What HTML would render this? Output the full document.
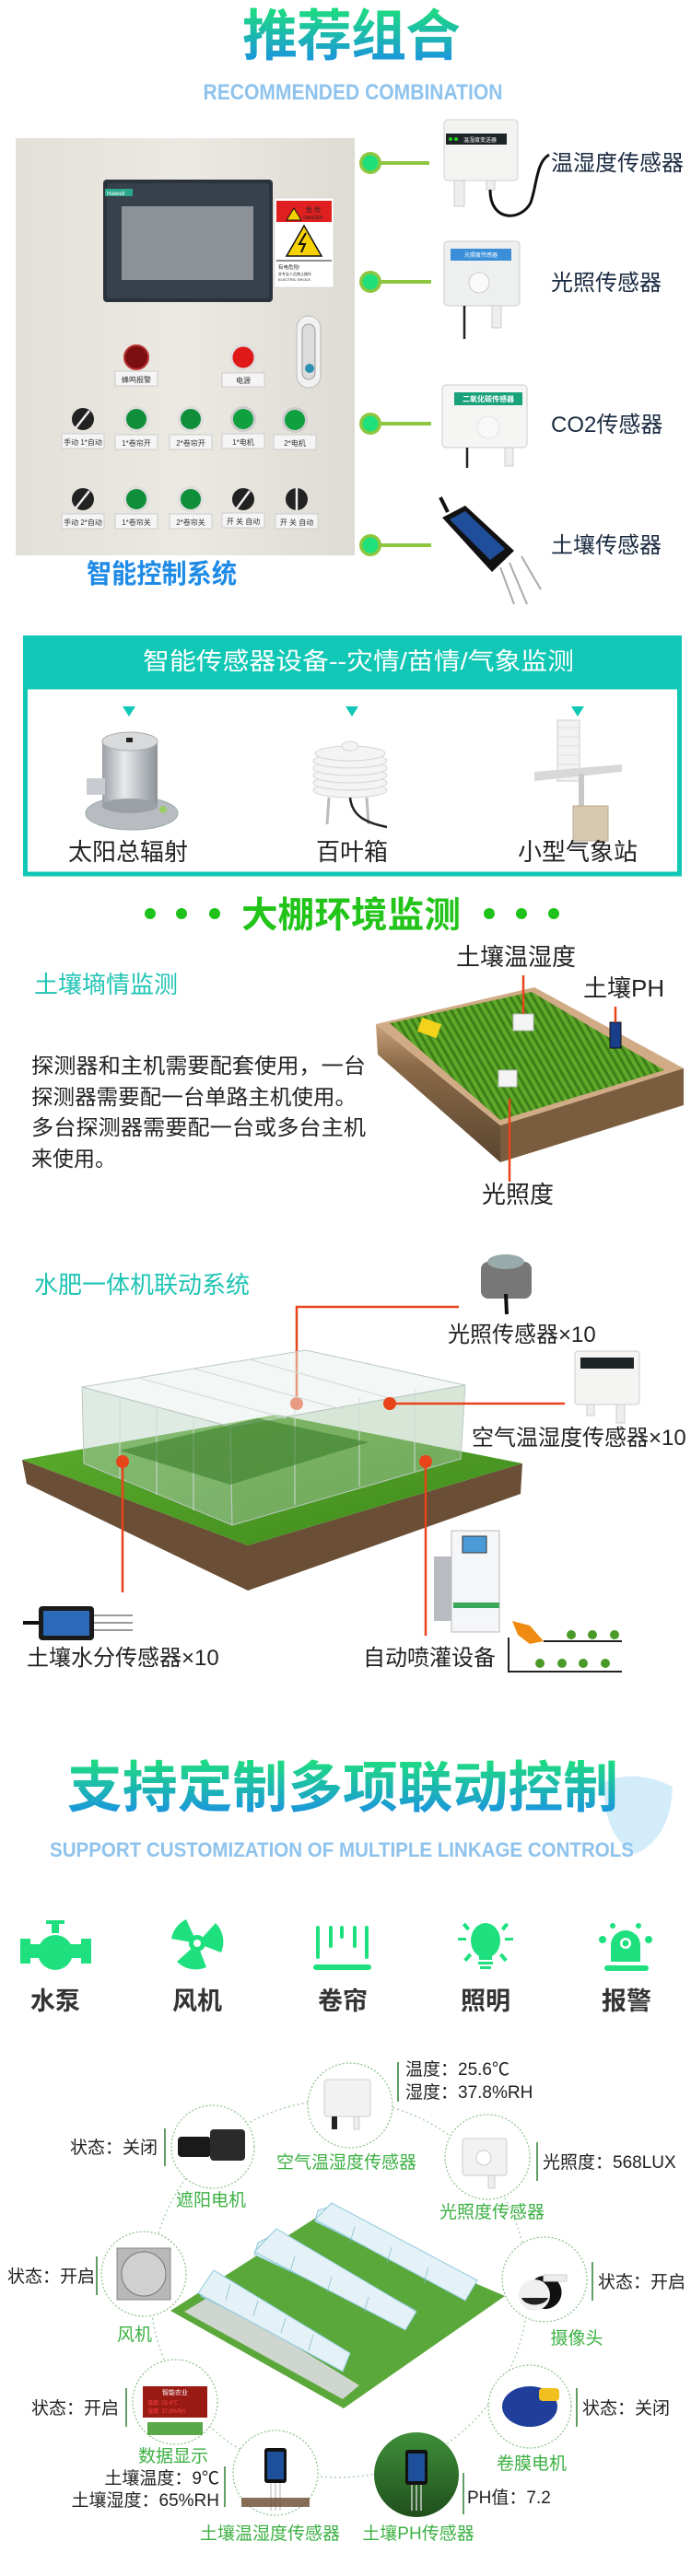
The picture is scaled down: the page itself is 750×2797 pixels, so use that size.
<!DOCTYPE html>
<html><head><meta charset="utf-8"><style>
html,body{margin:0;padding:0;background:#fff}
svg{display:block}
text{font-family:"Liberation Sans","Noto Sans CJK SC",sans-serif}
</style></head><body>
<svg width="750" height="2797" viewBox="0 0 750 2797" xmlns="http://www.w3.org/2000/svg">
<defs>
<linearGradient id="tg" x1="0" y1="0" x2="0" y2="1"><stop offset="0" stop-color="#1fe07a"/><stop offset="1" stop-color="#1a8de8"/></linearGradient>
<linearGradient id="panel" x1="0" y1="0" x2="1" y2="0"><stop offset="0" stop-color="#e2e0d8"/><stop offset="0.5" stop-color="#ebe9e2"/><stop offset="1" stop-color="#dddbd3"/></linearGradient>
<linearGradient id="silver" x1="0" y1="0" x2="1" y2="0"><stop offset="0" stop-color="#9aa0a6"/><stop offset="0.4" stop-color="#e8eaec"/><stop offset="1" stop-color="#8c9298"/></linearGradient>
<pattern id="rows" width="7" height="7" patternUnits="userSpaceOnUse" patternTransform="rotate(-30)"><rect width="7" height="7" fill="#5ea82a"/><rect width="3" height="7" fill="#3d7d18"/></pattern>
<linearGradient id="soil" x1="0" y1="0" x2="0" y2="1"><stop offset="0" stop-color="#c9a27a"/><stop offset="0.3" stop-color="#8a6a48"/><stop offset="1" stop-color="#5a4530"/></linearGradient>
<linearGradient id="grass" x1="0" y1="0" x2="1" y2="1"><stop offset="0" stop-color="#5cae2e"/><stop offset="1" stop-color="#3f8a1c"/></linearGradient>
<linearGradient id="phg" x1="0" y1="0" x2="0" y2="1"><stop offset="0" stop-color="#3f8f3a"/><stop offset="1" stop-color="#1f4f1c"/></linearGradient>
</defs>

<!-- ===== Section 1 ===== -->
<text x="381" y="60" text-anchor="middle" font-size="60" font-weight="bold" fill="url(#tg)" letter-spacing="-1">推荐组合</text>
<text x="383" y="108" text-anchor="middle" font-size="24" font-weight="bold" fill="#8ec3ee" textLength="325" lengthAdjust="spacingAndGlyphs">RECOMMENDED COMBINATION</text>

<rect x="17" y="150" width="368" height="453" fill="url(#panel)"/>
<rect x="112" y="195" width="184" height="133" rx="4" fill="#2a323b"/>
<rect x="116" y="199" width="176" height="125" rx="3" fill="#37414c"/>
<rect x="114" y="205" width="30" height="8" fill="#2aa88a"/>
<text x="116" y="212" font-size="6" fill="#fff">Haiwell</text>
<rect x="132" y="224" width="143" height="80" fill="#8d9298"/>
<rect x="298" y="215" width="64" height="97" fill="#fff" stroke="#ccc" stroke-width="0.5"/>
<rect x="300" y="218" width="60" height="23" fill="#e02020"/>
<polygon points="311,239 319,226 327,239" fill="#f7d100" stroke="#111" stroke-width="1"/>
<text x="340" y="230" font-size="7" fill="#222" text-anchor="middle">危 险</text>
<text x="340" y="238" font-size="5" fill="#222" text-anchor="middle">DANGER</text>
<polygon points="311,278 330,245 349,278" fill="#f7d100" stroke="#111" stroke-width="1.5"/>
<path d="M332,253 L325,265 L331,265 L327,274" stroke="#111" stroke-width="2" fill="none"/>
<line x1="300" y1="283" x2="360" y2="283" stroke="#222"/>
<text x="302" y="292" font-size="5.5" fill="#222">有电危险!</text>
<text x="302" y="299" font-size="4" fill="#222">非专业人员禁止操作</text>
<text x="302" y="305" font-size="4" fill="#222">ELECTRIC SHOCK</text>
<rect x="322" y="343" width="26" height="78" rx="13" fill="#f2f2f2" stroke="#bbb"/>
<rect x="328" y="352" width="14" height="60" rx="7" fill="#dcdcdc" stroke="#999"/>
<circle cx="336" cy="400" r="5" fill="#2a8fb0"/>

<!-- row1 -->
<circle cx="148" cy="388" r="13" fill="#7a0e10" stroke="#b33" stroke-width="2"/>
<circle cx="264" cy="388" r="13" fill="#e01818" stroke="#ddd" stroke-width="3"/>
<rect x="125" y="403" width="46" height="16" fill="#f5f5f5" stroke="#ccc"/><text x="148" y="415" font-size="8" text-anchor="middle" fill="#333">蜂鸣报警</text>
<rect x="241" y="405" width="46" height="15" fill="#f5f5f5" stroke="#ccc"/><text x="264" y="416" font-size="8" text-anchor="middle" fill="#333">电源</text>
<!-- row2 -->
<circle cx="90" cy="455" r="12" fill="#222"/><line x1="82" y1="465" x2="97" y2="446" stroke="#eee" stroke-width="2.5"/>
<circle cx="148" cy="455" r="14" fill="#ddd"/><circle cx="148" cy="455" r="11" fill="#0f8f3a"/>
<circle cx="207" cy="455" r="14" fill="#ddd"/><circle cx="207" cy="455" r="11" fill="#0f8f3a"/>
<circle cx="264" cy="455" r="14" fill="#ccc"/><circle cx="264" cy="455" r="11" fill="#10a040"/>
<circle cx="320" cy="456" r="14" fill="#ccc"/><circle cx="320" cy="456" r="11" fill="#10a040"/>
<g font-size="8" text-anchor="middle" fill="#333">
<rect x="67" y="471" width="46" height="16" fill="#f5f5f5" stroke="#ccc"/><text x="90" y="483">手动 1*自动</text>
<rect x="125" y="472" width="46" height="16" fill="#f5f5f5" stroke="#ccc"/><text x="148" y="484">1*卷帘开</text>
<rect x="184" y="472" width="46" height="16" fill="#f5f5f5" stroke="#ccc"/><text x="207" y="484">2*卷帘开</text>
<rect x="241" y="471" width="46" height="16" fill="#f5f5f5" stroke="#ccc"/><text x="264" y="483">1*电机</text>
<rect x="297" y="472" width="46" height="16" fill="#f5f5f5" stroke="#ccc"/><text x="320" y="484">2*电机</text>
</g>
<!-- row3 -->
<circle cx="90" cy="542" r="12" fill="#222"/><line x1="82" y1="552" x2="97" y2="533" stroke="#eee" stroke-width="2.5"/>
<circle cx="148" cy="542" r="14" fill="#ddd"/><circle cx="148" cy="542" r="11" fill="#0f8f3a"/>
<circle cx="207" cy="542" r="14" fill="#ddd"/><circle cx="207" cy="542" r="11" fill="#0f8f3a"/>
<circle cx="264" cy="542" r="12" fill="#222"/><line x1="257" y1="552" x2="271" y2="533" stroke="#eee" stroke-width="2.5"/>
<circle cx="322" cy="542" r="12" fill="#222"/><line x1="322" y1="530" x2="322" y2="554" stroke="#eee" stroke-width="2.5"/>
<g font-size="8" text-anchor="middle" fill="#333">
<rect x="67" y="558" width="46" height="16" fill="#f5f5f5" stroke="#ccc"/><text x="90" y="570">手动 2*自动</text>
<rect x="125" y="558" width="46" height="16" fill="#f5f5f5" stroke="#ccc"/><text x="148" y="570">1*卷帘关</text>
<rect x="184" y="558" width="46" height="16" fill="#f5f5f5" stroke="#ccc"/><text x="207" y="570">2*卷帘关</text>
<rect x="241" y="557" width="46" height="16" fill="#f5f5f5" stroke="#ccc"/><text x="264" y="569">开 关 自动</text>
<rect x="299" y="558" width="46" height="16" fill="#f5f5f5" stroke="#ccc"/><text x="322" y="570">开 关 自动</text>
</g>
<text x="94" y="633" font-size="29" fill="#1e8be6" font-weight="bold" textLength="163" lengthAdjust="spacingAndGlyphs">智能控制系统</text>

<!-- connector dots -->
<g>
<line x1="402" y1="177" x2="466" y2="177" stroke="#8dc63f" stroke-width="4"/><circle cx="402" cy="177" r="12" fill="#8dc63f"/><circle cx="402" cy="177" r="8.5" fill="#1fe07a"/>
<line x1="402" y1="306" x2="468" y2="306" stroke="#8dc63f" stroke-width="4"/><circle cx="402" cy="306" r="12" fill="#8dc63f"/><circle cx="402" cy="306" r="8.5" fill="#1fe07a"/>
<line x1="402" y1="460" x2="468" y2="460" stroke="#8dc63f" stroke-width="4"/><circle cx="402" cy="460" r="12" fill="#8dc63f"/><circle cx="402" cy="460" r="8.5" fill="#1fe07a"/>
<line x1="402" y1="592" x2="468" y2="592" stroke="#8dc63f" stroke-width="4"/><circle cx="402" cy="592" r="12" fill="#8dc63f"/><circle cx="402" cy="592" r="8.5" fill="#1fe07a"/>
</g>
<!-- sensor 1 -->
<rect x="482" y="130" width="80" height="66" rx="4" fill="#f3f3f1" stroke="#d0d0d0"/>
<rect x="484" y="145" width="66" height="12" fill="#1e2326"/>
<text x="503" y="154" font-size="6" fill="#fff">温湿度变送器</text>
<circle cx="489" cy="151" r="2" fill="#2c2"/><circle cx="495" cy="151" r="2" fill="#2c2"/>
<rect x="493" y="196" width="11" height="28" fill="#eee" stroke="#ccc"/>
<rect x="528" y="196" width="9" height="10" fill="#eee" stroke="#ccc"/>
<path d="M532,206 C532,242 566,240 576,220 C583,200 582,176 596,168" stroke="#111" stroke-width="3" fill="none"/>
<text x="598" y="185" font-size="24" fill="#1a2a40">温湿度传感器</text>
<!-- sensor 2 -->
<rect x="482" y="262" width="82" height="70" rx="4" fill="#eeefef" stroke="#ccc"/>
<rect x="489" y="270" width="66" height="13" fill="#3a8fd8"/>
<text x="522" y="279" font-size="6" fill="#fff" text-anchor="middle">光照度传感器</text>
<circle cx="520" cy="307" r="11" fill="#fafafa" stroke="#ccc"/>
<rect x="534" y="332" width="10" height="24" fill="#eee" stroke="#ccc"/>
<line x1="504" y1="332" x2="504" y2="368" stroke="#222" stroke-width="2.5"/>
<text x="598" y="315" font-size="24" fill="#1a2a40">光照传感器</text>
<!-- sensor 3 -->
<rect x="480" y="418" width="92" height="68" rx="4" fill="#f5f5f4" stroke="#ccc"/>
<rect x="493" y="426" width="74" height="14" fill="#19a27a"/>
<text x="530" y="436" font-size="8" fill="#fff" text-anchor="middle" font-weight="bold">二氧化碳传感器</text>
<circle cx="530" cy="464" r="12" fill="#f8f8f8" stroke="#e4e4e4"/>
<rect x="548" y="486" width="9" height="20" fill="#eee" stroke="#ccc"/>
<line x1="507" y1="486" x2="507" y2="508" stroke="#222" stroke-width="2.5"/>
<text x="598" y="469" font-size="24" fill="#1a2a40">CO2传感器</text>
<!-- soil probe -->
<path d="M478,540 L486,556" stroke="#111" stroke-width="4"/>
<polygon points="480,562 505,549 558,598 534,621" fill="#111"/>
<polygon points="488,564 505,555 548,596 532,608" fill="#1f4f9a"/>
<line x1="543" y1="616" x2="558" y2="656" stroke="#aaa" stroke-width="2"/>
<line x1="553" y1="611" x2="572" y2="656" stroke="#aaa" stroke-width="2"/>
<line x1="566" y1="604" x2="587" y2="640" stroke="#aaa" stroke-width="2"/>
<text x="598" y="600" font-size="24" fill="#1a2a40">土壤传感器</text>

<!-- ===== Section 2 ===== -->
<rect x="25" y="690" width="715" height="58" fill="#10c8b5"/>
<text x="389" y="727" text-anchor="middle" font-size="26" fill="#fff" textLength="468" lengthAdjust="spacingAndGlyphs">智能传感器设备--灾情/苗情/气象监测</text>
<rect x="27.5" y="746" width="710" height="203" fill="none" stroke="#10c8b5" stroke-width="5"/>
<polygon points="133,767 147,767 140,778" fill="#10c8b5"/>
<polygon points="375,767 389,767 382,778" fill="#10c8b5"/>
<polygon points="620,767 634,767 627,778" fill="#10c8b5"/>
<!-- solar radiation -->
<ellipse cx="143" cy="883" rx="50" ry="18" fill="#b8bcc0" stroke="#9aa"/>
<rect x="111" y="805" width="60" height="70" fill="url(#silver)"/>
<ellipse cx="141" cy="875" rx="30" ry="8" fill="#9aa0a6"/>
<ellipse cx="141" cy="805" rx="30" ry="10" fill="#d8dadc" stroke="#aaa"/>
<rect x="137" y="801" width="7" height="5" fill="#222"/>
<rect x="94" y="845" width="20" height="18" fill="#c8ccd0"/>
<circle cx="177" cy="879" r="4" fill="#9c6"/>
<text x="139" y="934" text-anchor="middle" font-size="26" fill="#222">太阳总辐射</text>
<!-- louver -->
<g fill="#f4f4f4" stroke="#d4d4d4">
<ellipse cx="380" cy="858" rx="40" ry="8"/><ellipse cx="380" cy="850" rx="40" ry="8"/><ellipse cx="380" cy="842" rx="40" ry="8"/>
<ellipse cx="380" cy="834" rx="40" ry="8"/><ellipse cx="380" cy="826" rx="40" ry="8"/><ellipse cx="380" cy="818" rx="38" ry="8"/>
<ellipse cx="380" cy="810" rx="9" ry="5"/>
</g>
<line x1="357" y1="866" x2="355" y2="895" stroke="#bbb" stroke-width="3"/>
<line x1="398" y1="866" x2="400" y2="895" stroke="#bbb" stroke-width="3"/>
<path d="M380,866 C382,885 395,893 420,898" stroke="#222" stroke-width="2.5" fill="none"/>
<text x="382" y="934" text-anchor="middle" font-size="26" fill="#222">百叶箱</text>
<!-- weather station -->
<rect x="605" y="782" width="24" height="66" fill="#f2f2f2" stroke="#ccc"/>
<g stroke="#ddd"><line x1="605" y1="790" x2="629" y2="790"/><line x1="605" y1="800" x2="629" y2="800"/><line x1="605" y1="810" x2="629" y2="810"/><line x1="605" y1="820" x2="629" y2="820"/><line x1="605" y1="830" x2="629" y2="830"/><line x1="605" y1="840" x2="629" y2="840"/></g>
<polygon points="580,838 675,830 675,838 580,848" fill="#d8d8d8"/>
<rect x="628" y="840" width="6" height="42" fill="#c8c8c8"/>
<rect x="622" y="875" width="38" height="38" fill="#d8c8b0" stroke="#b8a890"/>
<text x="627" y="934" text-anchor="middle" font-size="26" fill="#222">小型气象站</text>

<!-- ===== Section 3 ===== -->
<g fill="#1fc21a"><circle cx="163" cy="992" r="6"/><circle cx="197" cy="992" r="6"/><circle cx="233" cy="992" r="6"/><circle cx="531" cy="992" r="6"/><circle cx="566" cy="992" r="6"/><circle cx="601" cy="992" r="6"/></g>
<text x="381" y="1007" text-anchor="middle" font-size="39" font-weight="bold" fill="#22c41a" textLength="238" lengthAdjust="spacingAndGlyphs">大棚环境监测</text>
<text x="37" y="1078" font-size="26" fill="#1fc4b4">土壤墒情监测</text>
<g font-size="23" fill="#222">
<text x="34" y="1165" textLength="363" lengthAdjust="spacingAndGlyphs">探测器和主机需要配套使用，一台</text>
<text x="34" y="1199" textLength="353" lengthAdjust="spacingAndGlyphs">探测器需要配一台单路主机使用。</text>
<text x="34" y="1232" textLength="363" lengthAdjust="spacingAndGlyphs">多台探测器需要配一台或多台主机</text>
<text x="34" y="1266">来使用。</text>
</g>
<!-- field -->
<polygon points="408,1112 543,1222 543,1262 410,1145" fill="url(#soil)"/>
<polygon points="543,1222 742,1160 742,1200 543,1262" fill="#7a5c3e"/>
<polygon points="408,1112 580,1072 742,1160 543,1222" fill="#d0ab86"/>
<polygon points="423,1111 577,1077 721,1162 543,1216" fill="url(#rows)"/>
<rect x="455" y="1108" width="22" height="16" fill="#f2d21a" transform="rotate(20 466 1116)"/>
<rect x="557" y="1101" width="22" height="18" fill="#f4f4f4" stroke="#bbb"/>
<rect x="662" y="1110" width="12" height="28" fill="#1a3f8a" stroke="#111"/>
<rect x="541" y="1162" width="20" height="18" fill="#f4f4f4" stroke="#bbb"/>
<line x1="568" y1="1059" x2="568" y2="1101" stroke="#e8441a" stroke-width="2.5"/>
<line x1="668" y1="1093" x2="668" y2="1110" stroke="#e8441a" stroke-width="2.5"/>
<line x1="553" y1="1193" x2="553" y2="1283" stroke="#e8441a" stroke-width="2.5"/>
<text x="495" y="1048" font-size="26" fill="#222">土壤温湿度</text>
<text x="633" y="1082" font-size="26" fill="#222">土壤PH</text>
<text x="523" y="1306" font-size="26" fill="#222">光照度</text>

<text x="37" y="1404" font-size="26" fill="#1fc4b4">水肥一体机联动系统</text>
<!-- light sensor -->
<rect x="522" y="1370" width="55" height="40" rx="8" fill="#777"/>
<ellipse cx="549" cy="1370" rx="20" ry="8" fill="#9aa"/>
<path d="M549,1405 L550,1427" stroke="#111" stroke-width="4"/>
<polyline points="322,1524 322,1419 498,1419" fill="none" stroke="#e8441a" stroke-width="2.5"/>
<circle cx="322" cy="1524" r="7" fill="#e8441a"/>
<text x="486" y="1457" font-size="24" fill="#222">光照传感器×10</text>
<!-- air sensor -->
<rect x="624" y="1467" width="70" height="58" rx="3" fill="#f4f4f3" stroke="#ccc"/>
<rect x="630" y="1474" width="58" height="12" fill="#1e2326"/>
<rect x="637" y="1525" width="8" height="12" fill="#eee" stroke="#ccc"/><rect x="669" y="1525" width="9" height="20" fill="#eee" stroke="#ccc"/>
<text x="512" y="1569" font-size="24" fill="#222">空气温湿度传感器×10</text>
<!-- greenhouse ground -->
<polygon points="24,1585 29,1611 269,1727 565,1622 567,1589 269,1678" fill="#6a4e36"/>
<polygon points="24,1585 300,1536 567,1589 269,1678" fill="url(#grass)"/>
<polygon points="89,1506 332,1466 505,1504 250,1549" fill="#e8f0ec" fill-opacity="0.5" stroke="#bcc8c4"/>
<polygon points="89,1506 250,1549 252,1656 91,1589" fill="#b8d0c0" fill-opacity="0.45" stroke="#bcc8c4"/>
<polygon points="250,1549 505,1504 500,1584 252,1656" fill="#a8c8a8" fill-opacity="0.45" stroke="#bcc8c4"/>
<g stroke="#d0dad6" fill="none"><line x1="150" y1="1496" x2="310" y2="1540"/><line x1="210" y1="1486" x2="370" y2="1530"/><line x1="270" y1="1476" x2="430" y2="1520"/><line x1="130" y1="1517" x2="130" y2="1605"/><line x1="170" y1="1527" x2="170" y2="1623"/><line x1="210" y1="1538" x2="210" y2="1640"/><line x1="320" y1="1530" x2="320" y2="1634"/><line x1="390" y1="1518" x2="390" y2="1614"/><line x1="450" y1="1508" x2="450" y2="1598"/></g>
<g fill="#3a7d2a" opacity="0.6"><polygon points="130,1575 250,1612 400,1566 280,1540"/></g>
<line x1="423" y1="1524" x2="613" y2="1524" stroke="#e8441a" stroke-width="2.5"/>
<circle cx="423" cy="1524" r="7" fill="#e8441a"/>
<line x1="133" y1="1587" x2="133" y2="1729" stroke="#e8441a" stroke-width="2.5"/>
<circle cx="133" cy="1587" r="7" fill="#e8441a"/>
<line x1="462" y1="1587" x2="462" y2="1776" stroke="#e8441a" stroke-width="2.5"/>
<circle cx="462" cy="1587" r="7" fill="#e8441a"/>
<!-- soil moisture -->
<rect x="42" y="1744" width="60" height="37" rx="4" fill="#1a1a1a"/>
<rect x="47" y="1749" width="50" height="27" fill="#2a6ab8"/>
<path d="M25,1762 L42,1762" stroke="#111" stroke-width="4"/>
<g stroke="#999" stroke-width="2"><line x1="102" y1="1754" x2="144" y2="1754"/><line x1="102" y1="1762" x2="144" y2="1762"/><line x1="102" y1="1770" x2="144" y2="1770"/></g>
<text x="29" y="1808" font-size="24" fill="#222">土壤水分传感器×10</text>
<!-- machine -->
<rect x="471" y="1690" width="20" height="70" fill="#b8bcc0"/>
<rect x="490" y="1662" width="52" height="110" fill="#f4f6f8" stroke="#bbb"/>
<rect x="502" y="1668" width="26" height="18" fill="#4a9ad8" stroke="#333"/>
<rect x="492" y="1740" width="50" height="6" fill="#3aa858"/>
<g stroke="#222" stroke-width="2" fill="none"><path d="M552,1778 L552,1815 L675,1815"/><path d="M590,1782 L675,1782"/></g>
<polygon points="556,1760 575,1765 590,1782 575,1785 562,1775" fill="#f08a10"/>
<g fill="#4a9a2a"><circle cx="620" cy="1775" r="5"/><circle cx="643" cy="1775" r="5"/><circle cx="667" cy="1775" r="5"/><circle cx="586" cy="1806" r="5"/><circle cx="610" cy="1806" r="5"/><circle cx="633" cy="1806" r="5"/><circle cx="657" cy="1806" r="5"/></g>
<text x="394" y="1808" font-size="24" fill="#222">自动喷灌设备</text>

<!-- ===== Section 4 ===== -->
<path d="M655,1935 Q690,1920 730,1940 Q728,1995 690,2013 Q655,1995 655,1935Z" fill="#bfe4f8" opacity="0.7"/>
<text x="372" y="1962" text-anchor="middle" font-size="60" font-weight="bold" fill="url(#tg)" textLength="598" lengthAdjust="spacingAndGlyphs">支持定制多项联动控制</text>
<text x="371" y="2016" text-anchor="middle" font-size="22" font-weight="bold" fill="#8ec3ee" textLength="634" lengthAdjust="spacingAndGlyphs">SUPPORT CUSTOMIZATION OF MULTIPLE LINKAGE CONTROLS</text>

<!-- icons -->
<g fill="#1fe07e">
<rect x="22" y="2105" width="11" height="27"/><rect x="88" y="2105" width="11" height="27"/>
<rect x="33" y="2111" width="55" height="15"/>
<circle cx="60" cy="2120" r="19"/>
<rect x="56" y="2085" width="8" height="14"/><rect x="50" y="2085" width="20" height="4"/>
<g transform="translate(214,2110)">
<path d="M0,0 L-28,-5 A29,29 0 0 1 -12,-26 Z"/>
<path d="M0,0 L20,-22 A29,29 0 0 1 26,10 Z"/>
<path d="M0,0 L10,26 A29,29 0 0 1 -22,20 Z"/>
<circle r="9"/><circle r="4" fill="#fff"/>
</g>
<rect x="343" y="2091" width="4" height="36" rx="2"/><rect x="357" y="2091" width="4" height="24" rx="2"/><rect x="369" y="2091" width="4" height="14" rx="2"/><rect x="383" y="2091" width="4" height="24" rx="2"/><rect x="396" y="2091" width="4" height="36" rx="2"/>
<rect x="340" y="2133" width="63" height="6" rx="3"/>
<ellipse cx="527" cy="2107" rx="16" ry="19"/><rect x="520" y="2120" width="14" height="8"/>
<rect x="519" y="2130" width="16" height="3"/><rect x="521" y="2135" width="12" height="3"/>
<rect x="497" y="2104" width="9" height="3"/><rect x="548" y="2104" width="9" height="3"/>
<rect x="504" y="2088" width="4" height="8" transform="rotate(-40 506 2092)"/><rect x="546" y="2088" width="4" height="8" transform="rotate(40 548 2092)"/>
<rect x="506" y="2121" width="4" height="9" transform="rotate(40 508 2125)"/><rect x="544" y="2121" width="4" height="9" transform="rotate(-40 546 2125)"/>
<path d="M663,2130 L663,2112 A16,16 0 0 1 695,2112 L695,2130 Z"/>
<circle cx="679" cy="2110" r="6" fill="#fff"/><circle cx="679" cy="2110" r="3.5"/>
<rect x="656" y="2134" width="48" height="6" rx="3"/>
<circle cx="654" cy="2106" r="4"/><circle cx="704" cy="2106" r="4"/><circle cx="665" cy="2091" r="3"/><circle cx="693" cy="2091" r="3"/>
</g>
<g font-size="27" font-weight="bold" fill="#333" text-anchor="middle">
<text x="60" y="2182">水泵</text><text x="214" y="2182">风机</text><text x="372" y="2182">卷帘</text><text x="527" y="2182">照明</text><text x="680" y="2182">报警</text>
</g>

<!-- diagram ring -->
<circle cx="368" cy="2485" r="205" fill="none" stroke="#9cc79a" stroke-width="1.2" stroke-dasharray="2,3"/>
<!-- central greenhouse -->
<polygon points="185,2509 346,2406 548,2493 373,2615" fill="#5ba83a"/>
<polygon points="200,2510 230,2492 390,2590 372,2605" fill="#cfd6d0"/>
<g fill="#e4f2f8" stroke="#8ec8da" stroke-width="1">
<polygon points="222,2480 238,2470 372,2552 356,2562 218,2493"/>
<polygon points="215,2490 232,2465 380,2555 372,2575"/>
<polygon points="280,2435 300,2425 450,2508 432,2520 276,2448"/>
<polygon points="276,2445 300,2420 452,2510 440,2530"/>
<polygon points="345,2400 362,2395 515,2478 500,2490 342,2412"/>
<polygon points="342,2410 360,2392 518,2476 505,2498"/>
</g>
<g stroke="#7fb8c8" stroke-width="0.7"><line x1="250" y1="2480" x2="245" y2="2497"/><line x1="280" y1="2498" x2="275" y2="2515"/><line x1="310" y1="2517" x2="305" y2="2533"/><line x1="340" y1="2535" x2="335" y2="2552"/><line x1="320" y1="2450" x2="315" y2="2467"/><line x1="360" y1="2472" x2="355" y2="2489"/><line x1="400" y1="2494" x2="395" y2="2511"/><line x1="385" y1="2418" x2="380" y2="2435"/><line x1="425" y1="2440" x2="420" y2="2457"/><line x1="465" y1="2462" x2="460" y2="2479"/></g>

<!-- circles -->
<g fill="#fff" stroke="#8cc08a" stroke-width="1.2" stroke-dasharray="2,2">
<circle cx="380" cy="2286" r="46"/><circle cx="231" cy="2331" r="45"/><circle cx="529" cy="2342" r="46"/>
<circle cx="156" cy="2469" r="46"/><circle cx="591" cy="2475" r="46"/><circle cx="190" cy="2608" r="46"/>
<circle cx="575" cy="2613" r="45"/><circle cx="299" cy="2685" r="46"/>
</g>
<circle cx="452" cy="2687" r="46" fill="url(#phg)"/>
<!-- circle contents -->
<rect x="352" y="2258" width="50" height="40" rx="3" fill="#f2f2f2" stroke="#ccc"/><rect x="360" y="2298" width="6" height="14" fill="#222"/><rect x="384" y="2298" width="6" height="14" fill="#eee" stroke="#ccc"/>
<rect x="193" y="2320" width="36" height="22" rx="4" fill="#1a1a1a"/><rect x="228" y="2312" width="38" height="34" rx="4" fill="#2a2a2a"/>
<rect x="502" y="2322" width="48" height="40" rx="3" fill="#f2f2f2" stroke="#ccc"/><circle cx="525" cy="2343" r="8" fill="#fff" stroke="#ccc"/><rect x="530" y="2362" width="7" height="14" fill="#eee" stroke="#ccc"/>
<rect x="127" y="2441" width="58" height="56" fill="#b8b8b8" stroke="#888"/><circle cx="156" cy="2469" r="24" fill="#d0d0d0" stroke="#777"/>
<path d="M583,2473 A18,18 0 0 0 600,2505 A18,18 0 0 0 583,2473Z" fill="#111"/><circle cx="580" cy="2492" r="17" fill="#f0f0f0"/><path d="M566,2495 A15,10 0 0 0 595,2495Z" fill="#222"/><rect x="590" y="2470" width="25" height="7" fill="#eee" stroke="#ccc"/>
<rect x="155" y="2591" width="70" height="34" fill="#9a1a14"/><text x="190" y="2600" font-size="7" fill="#fff" text-anchor="middle">智能农业</text><text x="160" y="2611" font-size="6" fill="#f44">温度: 25.6℃</text><text x="160" y="2620" font-size="6" fill="#f44">湿度: 37.8%RH</text>
<rect x="160" y="2630" width="60" height="14" fill="#5aa84a"/>
<ellipse cx="575" cy="2613" rx="30" ry="22" fill="#1f3f9a"/><rect x="585" y="2593" width="22" height="14" rx="4" fill="#f0c020"/>
<rect x="287" y="2658" width="24" height="38" rx="3" fill="#111"/><rect x="290" y="2662" width="18" height="30" fill="#1e4f9a"/><g stroke="#ccc" stroke-width="1.5"><line x1="294" y1="2696" x2="294" y2="2726"/><line x1="299" y1="2696" x2="299" y2="2726"/><line x1="304" y1="2696" x2="304" y2="2726"/></g>
<rect x="262" y="2712" width="74" height="10" fill="#6a4a30" opacity="0.8"/>
<rect x="440" y="2660" width="24" height="38" rx="3" fill="#111"/><rect x="443" y="2664" width="18" height="30" fill="#1e4f9a"/><g stroke="#ccc" stroke-width="1.5"><line x1="447" y1="2698" x2="447" y2="2726"/><line x1="452" y1="2698" x2="452" y2="2726"/><line x1="457" y1="2698" x2="457" y2="2726"/></g>
<!-- green labels -->
<g font-size="19" fill="#3cb043" text-anchor="middle">
<text x="376" y="2354">空气温湿度传感器</text><text x="229" y="2395">遮阳电机</text><text x="534" y="2408">光照度传感器</text>
<text x="146" y="2541">风机</text><text x="626" y="2545">摄像头</text><text x="188" y="2673">数据显示</text>
<text x="577" y="2681">卷膜电机</text><text x="293" y="2757">土壤温湿度传感器</text><text x="454" y="2757">土壤PH传感器</text>
</g>
<!-- status bars -->
<g stroke="#2e7d32" stroke-width="1.5">
<line x1="432" y1="2239" x2="432" y2="2282"/><line x1="179" y1="2311" x2="179" y2="2352"/><line x1="583" y1="2326" x2="583" y2="2368"/>
<line x1="105" y1="2450" x2="105" y2="2492"/><line x1="643" y1="2456" x2="643" y2="2498"/><line x1="137" y1="2593" x2="137" y2="2635"/>
<line x1="626" y1="2593" x2="626" y2="2635"/><line x1="244" y1="2678" x2="244" y2="2722"/><line x1="503" y1="2685" x2="503" y2="2730"/>
</g>
<g font-size="19" fill="#222">
<text x="440" y="2253">温度：25.6℃</text><text x="440" y="2278">湿度：37.8%RH</text>
<text x="171" y="2338" text-anchor="end">状态：关闭</text>
<text x="589" y="2354">光照度：568LUX</text>
<text x="103" y="2478" text-anchor="end">状态：开启</text>
<text x="649" y="2484">状态：开启</text>
<text x="129" y="2621" text-anchor="end">状态：开启</text>
<text x="632" y="2621">状态：关闭</text>
<text x="238" y="2697" text-anchor="end">土壤温度：9℃</text><text x="238" y="2721" text-anchor="end">土壤湿度：65%RH</text>
<text x="507" y="2718">PH值：7.2</text>
</g>
</svg>
</body></html>
